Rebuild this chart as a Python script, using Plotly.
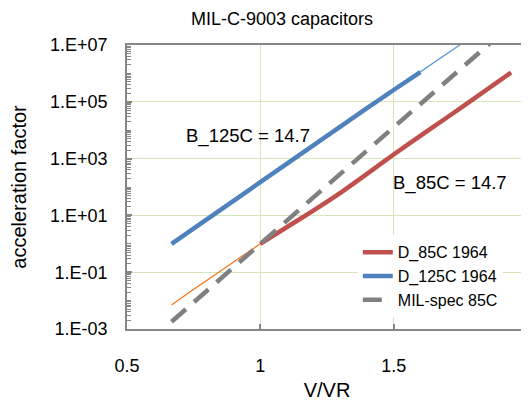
import plotly.graph_objects as go

# ---- data ----
x_d85 = [1.0, 1.1, 1.2, 1.3, 1.4, 1.5, 1.6, 1.7, 1.8, 1.94]
y_d85 = [1.0, 3.9, 15, 62, 290, 1400, 6300, 2.8e4, 1.26e5, 1.07e6]

x_d85_fit = [0.667, 0.75, 0.8, 0.9, 1.0, 1.1, 1.2, 1.3, 1.4, 1.5, 1.6, 1.7, 1.8, 1.94]
y_d85_fit = [0.007, 0.025, 0.052, 0.23, 1.0, 3.9, 15, 62, 290, 1400, 6300, 2.8e4, 1.26e5, 1.07e6]

x_d125 = [0.667, 0.75, 0.8, 0.9, 1.0, 1.1, 1.2, 1.3, 1.4, 1.5, 1.6]
y_d125 = [1.0, 3.5, 7.6, 35, 160, 720, 3200, 1.4e4, 6.0e4, 2.6e5, 1.1e6]

x_d125_fit = [0.667, 0.8, 1.0, 1.2, 1.4, 1.6, 1.76]
y_d125_fit = [1.0, 7.6, 160, 3200, 6.0e4, 1.1e6, 1.2e7]

x_mil = [0.667, 0.8, 0.9, 1.0, 1.1, 1.2, 1.3, 1.4, 1.5, 1.6, 1.7, 1.8, 1.9]
y_mil = [0.0018, 0.023, 0.15, 1.0, 6.6, 44, 290, 1900, 1.26e4, 8.3e4, 5.5e5, 3.6e6, 2.4e7]

y_tickvals = [1e-3, 1e-1, 1e1, 1e3, 1e5, 1e7]
y_ticktext = ["1.E-03", "1.E-01", "1.E+01", "1.E+03", "1.E+05", "1.E+07"]
x_tickvals = [0.5, 1, 1.5, 2]
x_ticktext = ["0.5", "1", "1.5", "2"]

title_text = "MIL-C-9003 capacitors"
x_title = "V/VR"
y_title = "acceleration factor"
ann_125 = "B_125C = 14.7"
ann_85 = "B_85C = 14.7"

FONT = "Liberation Sans, Arial, sans-serif"
GRID = "#d8e4bc"
AXIS = "#868686"
BLACK = "#000000"

# page body has an 8px default margin, so the figure is 8px smaller than the window
W, H = 521, 393

minor_vals = [k * 10.0 ** n for n in range(-3, 7) for k in range(1, 10)]

fig = go.Figure()
fig.add_trace(go.Scatter(x=x_d85_fit, y=y_d85_fit, mode="lines", showlegend=False,
                         line=dict(color="#f0781e", width=1.3, shape="spline", smoothing=0.5),
                         hoverinfo="skip"))
fig.add_trace(go.Scatter(x=x_d125_fit, y=y_d125_fit, mode="lines", showlegend=False,
                         line=dict(color="#5b9bd5", width=1.3), hoverinfo="skip"))
fig.add_trace(go.Scatter(x=x_d85, y=y_d85, mode="lines", name="D_85C 1964",
                         line=dict(color="#c0504d", width=4.5, shape="spline", smoothing=0.5)))
fig.add_trace(go.Scatter(x=x_d125, y=y_d125, mode="lines", name="D_125C 1964",
                         line=dict(color="#4f81bd", width=4.5)))
fig.add_trace(go.Scatter(x=x_mil, y=y_mil, mode="lines", name="MIL-spec 85C",
                         line=dict(color="#808080", width=4.5, dash="19px,11px")))

fig.update_layout(
    width=W, height=H,
    margin=dict(l=118.5, r=1.5, t=37, b=72, autoexpand=False),
    paper_bgcolor="white", plot_bgcolor="white",
    font=dict(family=FONT, color=BLACK, size=16),
    title=dict(text=title_text, x=274 / W, xref="container", xanchor="center",
               y=1 - 11 / H, yref="container", yanchor="middle",
               font=dict(size=18, family=FONT, color=BLACK)),
    showlegend=True,
    legend=dict(x=0.577, y=0.33, xanchor="left", yanchor="top",
                bgcolor="white", borderwidth=0,
                font=dict(size=16, family=FONT, color=BLACK),
                tracegroupgap=0),
    annotations=[
        dict(x=0.9556, y=3.81, xref="x", yref="y", text=ann_125, showarrow=False,
             font=dict(size=18.5, family=FONT, color=BLACK)),
        dict(x=1.713, y=2.13, xref="x", yref="y", text=ann_85, showarrow=False,
             font=dict(size=18.5, family=FONT, color=BLACK)),
    ],
)

fig.update_xaxes(
    type="linear", range=[0.5, 2],
    tickmode="array", tickvals=x_tickvals, ticktext=x_ticktext,
    ticks="inside", ticklen=5, tickcolor=AXIS, tickwidth=1.5,
    showgrid=True, gridcolor=GRID, gridwidth=1.2,
    showline=True, linecolor=AXIS, linewidth=1.5, mirror=True,
    zeroline=False, automargin=False,
    tickfont=dict(size=18, family=FONT, color=BLACK),
    ticklabelstandoff=20,
    title=dict(text=x_title, font=dict(size=20, family=FONT, color=BLACK), standoff=24),
)
fig.update_yaxes(
    type="log", range=[-3, 7],
    tickmode="array", tickvals=y_tickvals, ticktext=y_ticktext,
    ticks="inside", ticklen=5, tickcolor=AXIS, tickwidth=1.5,
    minor=dict(tickmode="array", tickvals=minor_vals, ticks="inside", ticklen=4,
               tickcolor=AXIS, tickwidth=1, showgrid=False),
    showgrid=True, gridcolor=GRID, gridwidth=1.2,
    showline=True, linecolor=AXIS, linewidth=1.5, mirror=True,
    zeroline=False, automargin=False,
    tickfont=dict(size=18, family=FONT, color=BLACK),
    ticklabelstandoff=14,
    title=dict(text=y_title, font=dict(size=20, family=FONT, color=BLACK), standoff=18),
)

fig.write_html("out.html")
